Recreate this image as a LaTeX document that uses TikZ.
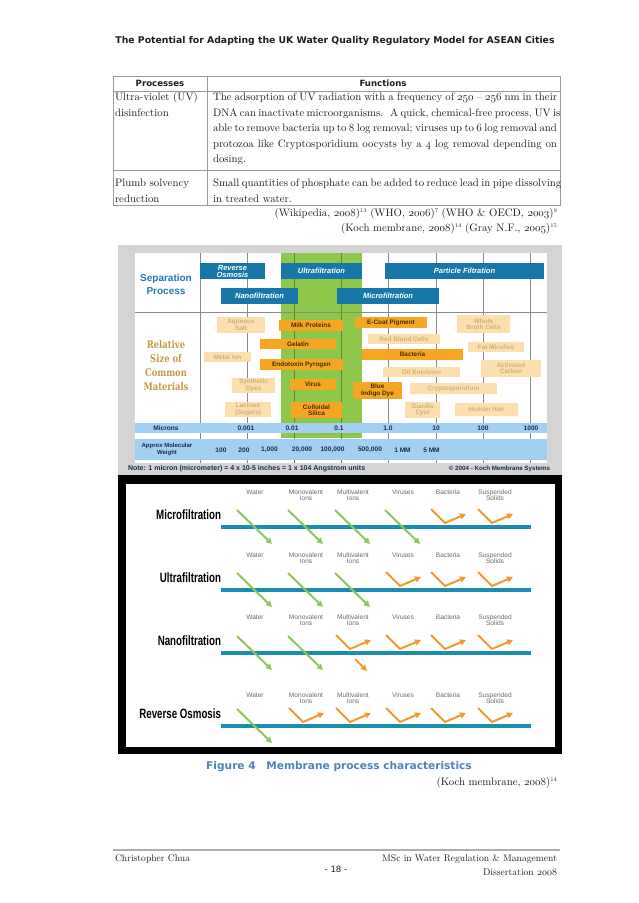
\documentclass[tikz,border=0pt]{standalone}
\usepackage{fontspec}
\newfontfamily\verd{DejaVu Sans}
\newfontfamily\ari{Liberation Sans}
\newfontfamily\dserif{DejaVu Serif}
\usetikzlibrary{arrows.meta}
\newcommand\myfs[2]{\fontsize{#1}{#2}\selectfont}
\newcommand\osn[1]{{\fontencoding{OML}\fontfamily{cmm}\fontseries{m}\fontshape{it}\selectfont #1}}
\newcommand\sups[1]{\raisebox{3.5pt}{\myfs{5.5}{6}#1}}
\definecolor{tline}{HTML}{9A9A9A}
\definecolor{txt}{HTML}{1E1E1E}
\definecolor{capblue}{HTML}{4F81BD}
\definecolor{figgray}{HTML}{D4D4D4}
\definecolor{barblue}{HTML}{1677A8}
\definecolor{sepblue}{HTML}{2479B0}
\definecolor{grn}{HTML}{8FC74A}
\definecolor{grnline}{HTML}{5E8C2A}
\definecolor{orgB}{HTML}{F6A623}
\definecolor{orgP}{HTML}{FBE0AE}
\definecolor{orgPt}{HTML}{D4AE78}
\definecolor{brownT}{HTML}{4A2E00}
\definecolor{bandblue}{HTML}{A2D0F2}
\definecolor{navy}{HTML}{1B2A55}
\definecolor{gold}{HTML}{C29A45}
\definecolor{memb}{HTML}{1A8DB0}
\definecolor{arrG}{HTML}{8CC95A}
\definecolor{arrO}{HTML}{F29A2E}
\definecolor{lblgray}{HTML}{6A6A6A}
\definecolor{gridc}{HTML}{8A8A8A}
\begin{document}
\begin{tikzpicture}[x=1pt,y=-1pt,
  every node/.style={inner sep=0pt, outer sep=0pt},
  body/.style={font=\myfs{10.8}{13}, text=txt},
  thead/.style={font=\verd\bfseries\myfs{8.6}{10}, text=txt},
  tl/.style={draw=tline, line width=0.8pt},
  bright/.style={fill=orgB, text=brownT, font=\ari\bfseries\myfs{6.4}{6.4}, align=center},
  pale/.style={fill=orgP, text=orgPt, font=\ari\bfseries\myfs{6.4}{6.4}, align=center},
  bar/.style={fill=barblue, text=white, font=\ari\bfseries\itshape\myfs{7.5}{7}, align=center},
  axn/.style={font=\ari\bfseries\myfs{6.6}{6.6}, text=navy, align=center},
  gridl/.style={draw=gridc, line width=0.5pt},
  lbl/.style={font=\ari\myfs{6.6}{6.2}, text=lblgray, align=center, anchor=north},
  rown/.style={font=\ari\bfseries\myfs{13.5}{14}, anchor=east},
  pass/.style={draw=arrG, line width=2pt, -{Triangle[width=6pt,length=6pt]}},
  rej/.style={draw=arrO, line width=2pt, line join=miter, -{Triangle[width=6pt,length=6pt]}},
  membl/.style={draw=memb, line width=4pt},
  foot/.style={font=\myfs{9.6}{11}, text=txt}
]
\useasboundingbox[fill=white] (0,0) rectangle (638,903);

% header
\node[font=\verd\bfseries\myfs{9.3}{10}, text=txt] (hdr) at (335,41) {The Potential for Adapting the UK Water Quality Regulatory Model for ASEAN Cities};

% table
\draw[tl] (113,76) rectangle (560,205);
\draw[tl] (113,91) -- (560,91);
\draw[tl] (113,170) -- (560,170);
\draw[tl] (207,76) -- (207,205);
\node[thead] (hp) at (160,83.5) {Processes};
\node[thead] (hf) at (383,83.5) {Functions};
\node[body, anchor=base west] (c1a) at (115,100.5) {Ultra-violet (UV)};
\node[body, anchor=base west] (c1b) at (115,116) {disinfection};
\node[body, anchor=base west] (c2a) at (115,186.5) {Plumb solvency};
\node[body, anchor=base west] (c2b) at (115,202) {reduction};
\node[body, anchor=base west] (f1) at (213,100.5) {\makebox[344pt][s]{The adsorption of UV radiation with a frequency of \osn{250} -- \osn{256} nm in their}};
\node[body, anchor=base west] (f2) at (213,116) {\makebox[344pt][s]{DNA can inactivate microorganisms. \ A quick, chemical-free process, UV is}};
\node[body, anchor=base west] (f3) at (213,131.5) {\makebox[344pt][s]{able to remove bacteria up to \osn{8} log removal; viruses up to \osn{6} log removal and}};
\node[body, anchor=base west] (f4) at (213,147) {\makebox[344pt][s]{protozoa like Cryptosporidium oocysts by a \osn{4} log removal depending on}};
\node[body, anchor=base west] (f5) at (213,162.5) {dosing.};
\node[body, anchor=base west] (g1) at (213,186.5) {\makebox[344pt][s]{Small quantities of phosphate can be added to reduce lead in pipe dissolving}};
\node[body, anchor=base west] (g2) at (213,202) {in treated water.};
\node[body, anchor=base east] (cit1) at (557,216) {(Wikipedia, \osn{2008})\sups{13} (WHO, \osn{2006})\sups{7} (WHO \& OECD, \osn{2003})\sups{9}};
\node[body, anchor=base east] (cit2) at (557,231) {(Koch membrane, \osn{2008})\sups{14} (Gray N.F., \osn{2005})\sups{15}};

% ---------- upper figure ----------
\fill[figgray] (118,245) rectangle (562,475);
\fill[white] (135,253) rectangle (547,463);
\fill[grn] (281,253) rectangle (362,438);
\foreach \gx in {247,388,436,483,530} {\draw[gridl] (\gx,253) -- (\gx,463);}
\foreach \gx in {294,341} {\draw[draw=grnline, line width=0.5pt] (\gx,253) -- (\gx,463);}
\draw[gridl] (200,253) -- (200,463);
\draw[gridl] (135,312) -- (547,312);
\node[font=\ari\bfseries\myfs{10}{12.5}, text=sepblue, align=center] (sep) at (166,284.5) {Separation\\Process};
\node[font=\dserif\bfseries\myfs{10.5}{14}, text=gold, align=center] (rel) at (166,366) {\scalebox{0.8}[1]{Relative}\\\scalebox{0.8}[1]{Size of}\\\scalebox{0.8}[1]{Common}\\\scalebox{0.8}[1]{Materials}};

\node[bar, minimum width=65, minimum height=16] (ro) at (232.5,271) {Reverse\\Osmosis};
\node[bar, minimum width=81, minimum height=16] (uf) at (321.5,271) {Ultrafiltration};
\node[bar, minimum width=159, minimum height=16] (pf) at (464.5,271) {Particle Filtration};
\node[bar, minimum width=77, minimum height=16] (nf) at (259.5,296) {Nanofiltration};
\node[bar, minimum width=102, minimum height=16] (mf) at (388,296) {Microfiltration};

\node[pale, minimum width=48, minimum height=16] (aq) at (241,325) {Aqueous\\Salt};
\node[bright, minimum width=64, minimum height=11] (milk) at (311,325.5) {Milk Proteins};
\node[bright, minimum width=76, minimum height=10] (gel) at (298,344) {Gelatin};
\node[pale, minimum width=47, minimum height=10] (metal) at (227.5,357) {Metal Ion};
\node[bright, minimum width=83, minimum height=11] (endo) at (301.5,364.5) {Endotoxin Pyrogen};
\node[pale, minimum width=43, minimum height=15] (syn) at (253.5,385.5) {Synthetic\\Dyes};
\node[bright, minimum width=46, minimum height=11] (vir) at (313,384.5) {Virus};
\node[pale, minimum width=46, minimum height=15] (lac) at (248,409.5) {Lactose\\(Sugars)};
\node[bright, minimum width=51, minimum height=16] (col) at (316.5,410) {Colloidal\\Silica};
\node[bright, minimum width=72, minimum height=11] (ecoat) at (391,322.5) {E-Coat Pigment};
\node[pale, minimum width=53, minimum height=18] (whole) at (483.5,324) {Whole\\Broth Cells};
\node[pale, minimum width=72, minimum height=10] (rbc) at (404,339) {Red Blood Cells};
\node[pale, minimum width=56, minimum height=10] (fat) at (496,347) {Fat Micelles};
\node[bright, minimum width=101, minimum height=11] (bac) at (412.5,354.5) {Bacteria};
\node[pale, minimum width=77, minimum height=10] (oil) at (421.5,372) {Oil Emulsion};
\node[pale, minimum width=60, minimum height=17] (act) at (511,368.5) {Activated\\Carbon};
\node[bright, minimum width=49, minimum height=17] (indigo) at (377.5,390.5) {Blue\\Indigo Dye};
\node[pale, minimum width=87, minimum height=11] (crypto) at (453.5,388.5) {Cryptosporidium};
\node[pale, minimum width=35, minimum height=16] (giar) at (422.5,410) {Giardia\\Cyst};
\node[pale, minimum width=63, minimum height=13] (hair) at (486.5,409.5) {Human Hair};

\fill[bandblue] (135,423) rectangle (547,433);
\fill[bandblue] (135,439) rectangle (547,460);
\node[axn] (mic) at (166,428) {Microns};
\node[axn, font=\ari\bfseries\myfs{6}{6.4}] (amw) at (167,449.5) {Approx Molecular\\Weight};
\foreach \vx/\vt [count=\i] in {246/0.001,292/0.01,339/0.1,388/1.0,436/10,483/100,531/1000}
  {\node[axn] (mv\i) at (\vx,428) {\vt};}
\foreach \vx/\vt [count=\i] in {221/100,244/200,269.5/{1,000},302/{20,000},332.5/{100,000},370/{500,000},402.5/1 MM,431.5/5 MM}
  {\node[axn] (mw\i) at (\vx,450) {\vt};}
\node[font=\ari\bfseries\myfs{7}{7}, text=navy, anchor=west] (note) at (128,469) {Note: 1 micron (micrometer) = 4 x 10-5 inches = 1 x 104 Angstrom units};
\node[font=\ari\bfseries\myfs{6.2}{7}, text=navy, anchor=east] (copy) at (550,469) {\textcopyright{} 2004 - Koch Membrane Systems};

% ---------- lower figure ----------
\fill[black] (118,475) rectangle (562,754);
\fill[white] (126,484) rectangle (555,747);
\foreach \rn/\L/\ly/\np in {Microfiltration/527/489.5/4, Ultrafiltration/590/553/3, Nanofiltration/653/615/2, Reverse Osmosis/726/693/1} {
  \node[rown] (rn\np) at (221,\L-12) {\scalebox{0.72}[1]{\rn}};
  \coordinate (ma\np) at (221,\L);
  \coordinate (mb\np) at (531,\L);
  \draw[membl] (ma\np) -- (mb\np);
  \foreach \cx/\cl [count=\ci] in {255/Water,306/{Monovalent\\Ions},353/{Multivalent\\Ions},403/Viruses,448/Bacteria,495/{Suspended\\Solids}} {
    \node[lbl] (lb\np\ci) at (\cx,\ly) {\cl};
    \ifnum\ci>\np
      \coordinate (ra\np\ci) at (\cx-17,\L-18);
      \coordinate (rb\np\ci) at (\cx-3,\L-4);
      \coordinate (rc\np\ci) at (\cx+18,\L-13);
      \draw[rej] (ra\np\ci) -- (rb\np\ci) -- (rc\np\ci);
    \else
      \coordinate (pa\np\ci) at (\cx-18,\L-17);
      \coordinate (pb\np\ci) at (\cx+17,\L+17);
      \draw[pass] (pa\np\ci) -- (pb\np\ci);
    \fi
  }
}
\coordinate (nsa) at (355,659);
\coordinate (nsb) at (367,671);
\draw[rej] (nsa) -- (nsb);

% caption
\node[font=\verd\bfseries\myfs{10.6}{12}, text=capblue] (cap) at (339,767) {Figure 4\quad Membrane process characteristics};
\node[body, anchor=base east] (cit3) at (557,785) {(Koch membrane, \osn{2008})\sups{14}};

% footer
\draw[draw=tline!80, line width=1.5pt] (113,850) -- (560,850);
\node[foot, anchor=base west] (fa) at (115,861) {Christopher Chua};
\node[foot, anchor=base east] (fb) at (557,861) {MSc in Water Regulation \& Management};
\node[font=\verd\myfs{8.6}{10}, text=txt] (pg) at (336,869) {- 18 -};
\node[foot, anchor=base east] (fc) at (557,875) {Dissertation \osn{2008}};
\end{tikzpicture}
\end{document}
